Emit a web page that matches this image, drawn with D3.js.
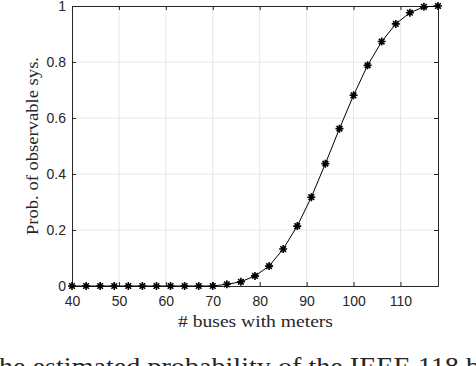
<!DOCTYPE html>
<html>
<head>
<meta charset="utf-8">
<script src="https://cdn.jsdelivr.net/npm/d3@7"></script>
<style>
  html, body { margin: 0; padding: 0; background: #fff; overflow: hidden; }
  svg { display: block; }
  .tick text { font-family: "Liberation Sans", Arial, sans-serif; font-size: 14px; fill: #262626; }
  .lbl { font-family: "Liberation Serif", "Times New Roman", serif; fill: #262626; }
</style>
</head>
<body>
<svg id="chart" width="476" height="366"></svg>
<script>
// ── DATA ────────────────────────────────────────────────────
const busCounts = [40, 43, 46, 49, 52, 55, 58, 61, 64, 67, 70, 73, 76, 79,
                   82, 85, 88, 91, 94, 97, 100, 103, 106, 109, 112, 115, 118];
const probObservable = [0, 0, 0, 0, 0, 0, 0, 0, 0, 0, 0, 0.006, 0.015, 0.036,
                        0.071, 0.132, 0.214, 0.317, 0.437, 0.562, 0.681, 0.788,
                        0.873, 0.936, 0.976, 0.997, 1.0];
const xTicks = [40, 50, 60, 70, 80, 90, 100, 110];
const yTicks = [0, 0.2, 0.4, 0.6, 0.8, 1];

// ── LAYOUT ──────────────────────────────────────────────────
const M = { left: 72, right: 438, top: 6, bottom: 286 };
const svg = d3.select('#chart');

const x = d3.scaleLinear().domain([40, 118]).range([M.left, M.right]);
const y = d3.scaleLinear().domain([0, 1]).range([M.bottom, M.top]);

const AXIS_COL = '#262626';
const GRID_COL = '#e6e6e6';

// grid
const grid = svg.append('g');
grid.selectAll('.gx').data(xTicks.slice(1)).join('line')
  .attr('x1', d => x(d)).attr('x2', d => x(d))
  .attr('y1', M.top).attr('y2', M.bottom)
  .attr('stroke', GRID_COL).attr('stroke-width', 1);
grid.selectAll('.gy').data(yTicks.slice(1, -1)).join('line')
  .attr('x1', M.left).attr('x2', M.right)
  .attr('y1', d => y(d)).attr('y2', d => y(d))
  .attr('stroke', GRID_COL).attr('stroke-width', 1);

// axes (ticks point inward like MATLAB)
const xAxis = svg.append('g')
  .attr('transform', `translate(0,${M.bottom})`)
  .call(d3.axisBottom(x).tickValues(xTicks).tickSizeInner(-4).tickSizeOuter(0).tickPadding(12));
const xTop = svg.append('g')
  .attr('transform', `translate(0,${M.top})`)
  .call(d3.axisTop(x).tickValues(xTicks).tickSizeInner(-4).tickSizeOuter(0).tickFormat(''));
const yAxis = svg.append('g')
  .attr('transform', `translate(${M.left},0)`)
  .call(d3.axisLeft(y).tickValues(yTicks).tickSizeInner(-4).tickSizeOuter(0).tickPadding(6)
    .tickFormat(d => d3.format('~g')(d)));
const yRight = svg.append('g')
  .attr('transform', `translate(${M.right},0)`)
  .call(d3.axisRight(y).tickValues(yTicks).tickSizeInner(-4).tickSizeOuter(0).tickFormat(''));

[xAxis, xTop, yAxis, yRight].forEach(g => {
  g.selectAll('path.domain').attr('stroke', AXIS_COL).attr('stroke-width', 1);
  g.selectAll('.tick line').attr('stroke', AXIS_COL);
});
xAxis.selectAll('.tick text').attr('dy', '0.6em');

// line
const line = d3.line().x((d, i) => x(busCounts[i])).y(d => y(d));
svg.append('path')
  .datum(probObservable)
  .attr('d', line)
  .attr('fill', 'none')
  .attr('stroke', '#000')
  .attr('stroke-width', 1);

// asterisk markers
const R = 4;
const star = `M${-R},0H${R}M0,${-R}V${R}` +
  `M${-R * 0.7},${-R * 0.7}L${R * 0.7},${R * 0.7}M${-R * 0.7},${R * 0.7}L${R * 0.7},${-R * 0.7}`;
svg.append('g').selectAll('path')
  .data(probObservable)
  .join('path')
  .attr('transform', (d, i) => `translate(${x(busCounts[i])},${y(d)})`)
  .attr('d', star)
  .attr('stroke', '#000')
  .attr('stroke-width', 1.6);

// labels
svg.append('text').attr('class', 'lbl')
  .attr('x', 255.5).attr('y', 327)
  .attr('text-anchor', 'middle').attr('font-size', 16)
  .attr('textLength', 155).attr('lengthAdjust', 'spacingAndGlyphs')
  .text('# buses with meters');
svg.append('text').attr('class', 'lbl')
  .attr('transform', `translate(38,146) rotate(-90)`)
  .attr('text-anchor', 'middle').attr('font-size', 16)
  .attr('textLength', 178).attr('lengthAdjust', 'spacingAndGlyphs')
  .text('Prob. of observable sys.');

// cropped caption line under the figure
svg.append('text').attr('class', 'lbl')
  .attr('x', -1).attr('y', 375)
  .attr('font-size', 25).attr('fill', '#111')
  .attr('textLength', 481).attr('lengthAdjust', 'spacingAndGlyphs')
  .text('he estimated probability of the IEEE 118 b');
</script>
</body>
</html>
